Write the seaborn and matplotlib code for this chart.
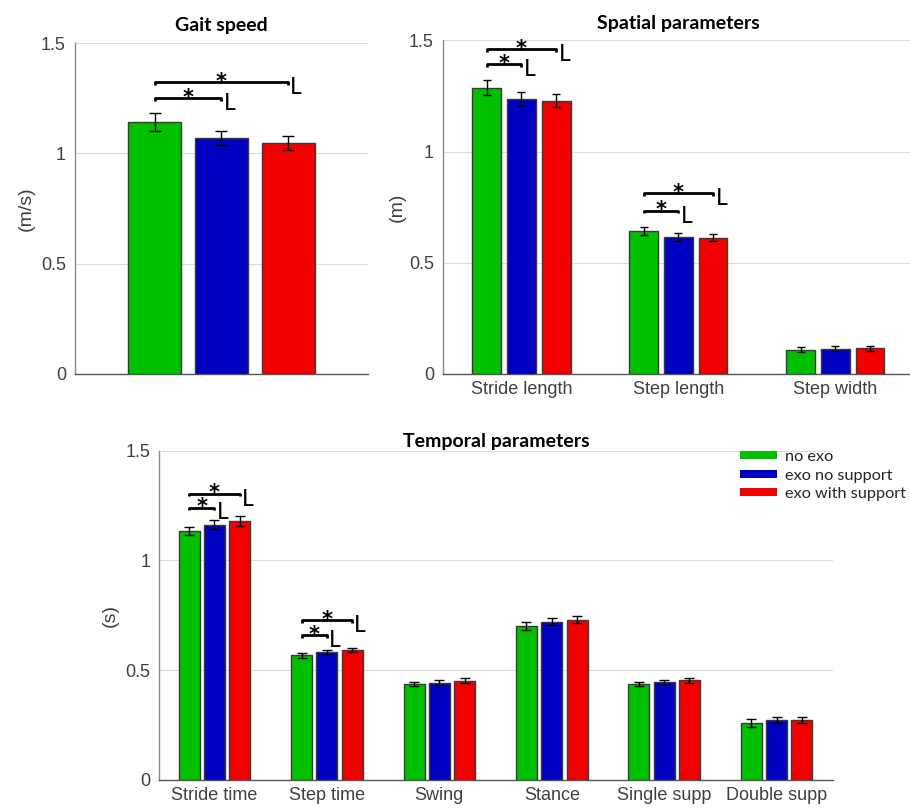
import numpy as np
import pandas as pd
import matplotlib
matplotlib.use("Agg")
import matplotlib.pyplot as plt
import seaborn as sns
from matplotlib.patches import Patch

# ---------------- data ----------------
conditions = ['no exo', 'exo no support', 'exo with support']
colors = ['#00C000', '#0000C0', '#F20000']

gait_params = ['Gait speed']
gait_mean = {'no exo': [1.142], 'exo no support': [1.071], 'exo with support': [1.047]}
gait_err = {'no exo': [0.039], 'exo no support': [0.031], 'exo with support': [0.032]}

spatial_params = ['Stride length', 'Step length', 'Step width']
spatial_mean = {'no exo': [1.287, 0.643, 0.109],
                'exo no support': [1.236, 0.616, 0.114],
                'exo with support': [1.229, 0.613, 0.115]}
spatial_err = {'no exo': [0.034, 0.018, 0.011],
               'exo no support': [0.032, 0.016, 0.010],
               'exo with support': [0.031, 0.017, 0.010]}

temporal_params = ['Stride time', 'Step time', 'Swing', 'Stance', 'Single supp', 'Double supp']
temporal_mean = {'no exo': [1.134, 0.568, 0.437, 0.700, 0.437, 0.260],
                 'exo no support': [1.163, 0.583, 0.443, 0.721, 0.445, 0.275],
                 'exo with support': [1.179, 0.592, 0.452, 0.729, 0.454, 0.273]}
temporal_err = {'no exo': [0.020, 0.011, 0.008, 0.019, 0.008, 0.017],
                'exo no support': [0.021, 0.011, 0.011, 0.015, 0.010, 0.014],
                'exo with support': [0.024, 0.011, 0.012, 0.016, 0.011, 0.015]}

# significance: (category index, compared condition index, bracket height)
gait_sig = [(0, 1, 1.249), (0, 2, 1.322)]
spatial_sig = [(0, 1, 1.392), (0, 2, 1.460), (1, 1, 0.734), (1, 2, 0.812)]
temporal_sig = [(0, 1, 1.241), (0, 2, 1.304), (1, 1, 0.661), (1, 2, 0.729)]

yticks = [0, 0.5, 1, 1.5]
ytick_labels = ['0', '0.5', '1', '1.5']

# ---------------- style ----------------
sns.set_theme(style='white')
plt.rcParams['font.family'] = ['Liberation Sans', 'DejaVu Sans']
TXT = '#404040'

fig = plt.figure(figsize=(9.1, 8.1), dpi=100)


def make_df(params, means):
    rows = []
    for c in conditions:
        for p, v in zip(params, means[c]):
            rows.append({'param': p, 'cond': c, 'value': v})
    return pd.DataFrame(rows)


def draw_panel(rect, params, means, errs, sigs, width, gap, xlim, capsize,
               title, title_pad, ylabel, ylabel_x, show_xlabels=True):
    ax = fig.add_axes(rect)
    df = make_df(params, means)
    sns.barplot(data=df, x='param', y='value', hue='cond', order=params,
                hue_order=conditions, palette=colors, width=width, gap=gap,
                errorbar=None, edgecolor='#3a3a3a', linewidth=1.0,
                saturation=1, legend=False, ax=ax, zorder=3)
    # error bars
    centers = {}
    for hi, c in enumerate(conditions):
        cont = ax.containers[hi]
        xs = [b.get_x() + b.get_width() / 2 for b in cont]
        centers[hi] = xs
        ax.errorbar(xs, means[c], yerr=errs[c], fmt='none', ecolor='black',
                    elinewidth=1.0, capsize=capsize, capthick=1.0, zorder=4)
    # significance brackets
    h = 0.012
    for ci, hj, y in sigs:
        x1 = centers[0][ci]
        x2 = centers[hj][ci]
        ax.plot([x1, x1, x2, x2], [y - h, y, y, y - h], color='black', lw=2.0,
                solid_capstyle='butt', zorder=5, clip_on=False)
        ax.annotate('*', ((x1 + x2) / 2, y), xytext=(0, -7), textcoords='offset points',
                    ha='center', va='bottom', fontsize=15, fontweight='bold',
                    family='DejaVu Sans', color='black', annotation_clip=False)
        ax.annotate('L', (x2, y), xytext=(1.5, -8.5), textcoords='offset points',
                    ha='left', va='baseline', fontsize=16.5, family='Lato',
                    color='black', annotation_clip=False)
    ax.set_xlim(*xlim)
    ax.set_ylim(0, 1.5)
    ax.set_yticks(yticks)
    ax.set_yticklabels(ytick_labels)
    ax.yaxis.grid(True, color='#dcdcdc', lw=0.8, zorder=0)
    ax.xaxis.grid(False)
    ax.tick_params(axis='both', length=0, labelsize=13, labelcolor=TXT)
    ax.tick_params(axis='y', pad=6.5)
    ax.tick_params(axis='x', pad=5)
    if not show_xlabels:
        ax.set_xticklabels([])
    ax.set_xlabel('')
    ax.set_ylabel(ylabel, fontsize=14, color=TXT)
    ax.yaxis.set_label_coords(ylabel_x, 0.5)
    for s in ['top', 'right']:
        ax.spines[s].set_visible(False)
    ax.spines['left'].set_color('#8a8a8a')
    ax.spines['bottom'].set_color('#555555')
    ax.spines['left'].set_linewidth(1.0)
    ax.spines['bottom'].set_linewidth(1.0)
    ax.set_title(title, fontsize=14, fontweight='bold', family='Lato',
                 color='black', pad=title_pad)
    return ax


W, H = 910, 810


def rect_px(x0, x1, ytop, ybot):
    return [x0 / W, 1 - ybot / H, (x1 - x0) / W, (ybot - ytop) / H]


ax1 = draw_panel(rect_px(75, 368, 43, 374), gait_params, gait_mean, gait_err, gait_sig,
                 width=0.667, gap=0.205, xlim=(-0.488, 0.488), capsize=4.5,
                 title='Gait speed', title_pad=8.5, ylabel='(m/s)', ylabel_x=-0.137,
                 show_xlabels=False)

ax2 = draw_panel(rect_px(443, 910, 40.3, 374), spatial_params, spatial_mean, spatial_err,
                 spatial_sig, width=0.667, gap=0.19, xlim=(-0.5, 2.475), capsize=3.0,
                 title='', title_pad=8, ylabel='(m)', ylabel_x=-0.079)
ax2.text((678.5 - 443) / (910 - 443), 1.0 + 11 / 333.7, 'Spatial parameters',
         transform=ax2.transAxes, ha='center', va='baseline', fontsize=14,
         fontweight='bold', family='Lato', color='black')

ax3 = draw_panel(rect_px(159.3, 833.3, 450.7, 780), temporal_params, temporal_mean,
                 temporal_err, temporal_sig, width=0.675, gap=0.17, xlim=(-0.491, 5.505),
                 capsize=3.3, title='Temporal parameters', title_pad=3, ylabel='(s)',
                 ylabel_x=-0.06)

# legend
handles = [Patch(facecolor=c, edgecolor='none') for c in colors]
fig.legend(handles, conditions, loc='upper left', bbox_to_anchor=(740 / W, 1 - 450 / H),
           frameon=False, prop={'family': 'Lato', 'size': 11.7}, handlelength=2.3,
           handleheight=0.4, handletextpad=0.45, labelspacing=0.28, borderpad=0,
           borderaxespad=0)

fig.savefig('out.png', dpi=100)
